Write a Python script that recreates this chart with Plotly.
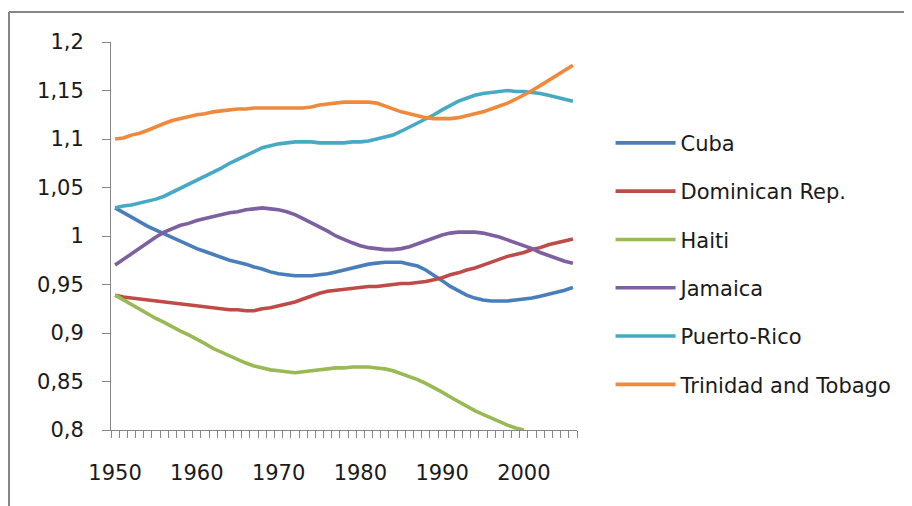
import plotly.graph_objects as go

years = list(range(1950, 2007))

cuba = [1.029, 1.024, 1.019, 1.015, 1.010, 1.006, 1.002, 0.998, 0.994, 0.990,
        0.987, 0.984, 0.981, 0.978, 0.975, 0.973, 0.971, 0.968, 0.966, 0.963,
        0.961, 0.960, 0.959, 0.959, 0.959, 0.960, 0.961, 0.963, 0.965, 0.967,
        0.969, 0.971, 0.972, 0.973, 0.973, 0.973, 0.971, 0.969, 0.965, 0.960,
        0.954, 0.948, 0.943, 0.939, 0.936, 0.934, 0.933, 0.933, 0.933, 0.934,
        0.935, 0.936, 0.938, 0.940, 0.942, 0.944, 0.947]

dominican = [0.939, 0.937, 0.936, 0.935, 0.934, 0.933, 0.932, 0.931, 0.930, 0.929,
             0.928, 0.927, 0.926, 0.925, 0.924, 0.924, 0.923, 0.923, 0.925, 0.926,
             0.928, 0.930, 0.932, 0.935, 0.938, 0.941, 0.943, 0.944, 0.945, 0.946,
             0.947, 0.948, 0.948, 0.949, 0.950, 0.951, 0.951, 0.952, 0.953, 0.955,
             0.957, 0.960, 0.962, 0.965, 0.967, 0.970, 0.973, 0.976, 0.979, 0.981,
             0.983, 0.986, 0.988, 0.991, 0.993, 0.995, 0.997]

haiti = [0.939, 0.934, 0.929, 0.925, 0.920, 0.915, 0.911, 0.906, 0.902, 0.898,
         0.894, 0.889, 0.884, 0.880, 0.876, 0.872, 0.869, 0.866, 0.864, 0.862,
         0.861, 0.860, 0.859, 0.860, 0.861, 0.862, 0.863, 0.864, 0.864, 0.865,
         0.865, 0.865, 0.864, 0.863, 0.861, 0.858, 0.855, 0.852, 0.848, 0.844,
         0.839, 0.834, 0.829, 0.824, 0.820, 0.816, 0.812, 0.808, 0.805, 0.802,
         0.800, None, None, None, None, None, None]

jamaica = [0.970, 0.976, 0.982, 0.988, 0.994, 0.999, 1.004, 1.008, 1.011, 1.013,
           1.016, 1.018, 1.020, 1.022, 1.024, 1.025, 1.027, 1.028, 1.029, 1.028,
           1.027, 1.025, 1.022, 1.018, 1.014, 1.009, 1.005, 1.000, 0.996, 0.993,
           0.990, 0.988, 0.987, 0.986, 0.986, 0.987, 0.989, 0.992, 0.995, 0.998,
           1.001, 1.003, 1.004, 1.004, 1.004, 1.003, 1.001, 0.999, 0.996, 0.993,
           0.990, 0.987, 0.983, 0.980, 0.977, 0.974, 0.972]

puerto_rico = [1.029, 1.031, 1.032, 1.034, 1.036, 1.038, 1.041, 1.045, 1.049, 1.053,
               1.057, 1.061, 1.066, 1.070, 1.075, 1.079, 1.083, 1.087, 1.091, 1.093,
               1.095, 1.096, 1.097, 1.097, 1.097, 1.096, 1.096, 1.096, 1.096, 1.097,
               1.097, 1.098, 1.100, 1.102, 1.104, 1.108, 1.112, 1.116, 1.120, 1.125,
               1.130, 1.135, 1.139, 1.142, 1.145, 1.147, 1.148, 1.149, 1.150, 1.149,
               1.149, 1.148, 1.147, 1.145, 1.143, 1.141, 1.139]

trinidad = [1.100, 1.101, 1.104, 1.106, 1.109, 1.113, 1.116, 1.119, 1.121, 1.123,
            1.125, 1.126, 1.128, 1.129, 1.130, 1.131, 1.131, 1.132, 1.132, 1.132,
            1.132, 1.132, 1.132, 1.132, 1.133, 1.135, 1.136, 1.137, 1.138, 1.138,
            1.138, 1.138, 1.137, 1.134, 1.131, 1.128, 1.126, 1.124, 1.122, 1.121,
            1.121, 1.121, 1.122, 1.124, 1.126, 1.128, 1.131, 1.134, 1.137, 1.141,
            1.145, 1.150, 1.155, 1.160, 1.165, 1.170, 1.176]

series_names = ["Cuba", "Dominican Rep.", "Haiti", "Jamaica", "Puerto-Rico", "Trinidad and Tobago"]
series_values = [cuba, dominican, haiti, jamaica, puerto_rico, trinidad]
series_colors = ["#4a7ebb", "#be4b48", "#98b954", "#7d60a0", "#46aac5", "#f0893c"]

x_tick_vals = [1950, 1960, 1970, 1980, 1990, 2000]
x_tick_text = ["1950", "1960", "1970", "1980", "1990", "2000"]
y_tick_vals = [0.8, 0.85, 0.9, 0.95, 1.0, 1.05, 1.1, 1.15, 1.2]
y_tick_text = ["0,8", "0,85", "0,9", "0,95", "1", "1,05", "1,1", "1,15", "1,2"]

FONT = "DejaVu Sans"
FS = 21
TXT = "#1a1a1a"
AX = "#868686"

fig = go.Figure()
for name, vals, col in zip(series_names, series_values, series_colors):
    fig.add_trace(go.Scatter(x=years, y=vals, mode="lines", name=name,
                             legendgroup=name,
                             line=dict(color=col, width=3.6),
                             connectgaps=False))

fig.update_layout(
    width=904, height=498,
    margin=dict(l=103, r=335, t=34, b=76),
    paper_bgcolor="white", plot_bgcolor="white",
    font=dict(family=FONT, size=FS, color=TXT),
    showlegend=True,
    legend=dict(x=1.072, y=0.792, xanchor="left", yanchor="top",
                font=dict(family=FONT, size=FS, color=TXT),
                itemwidth=60,
                tracegroupgap=18, bgcolor="rgba(0,0,0,0)"),
    xaxis=dict(range=[1949.5, 2006.5], showgrid=False, zeroline=False,
               showline=True, linecolor=AX, linewidth=1,
               tickmode="array", tickvals=x_tick_vals, ticktext=x_tick_text,
               ticks="", ticklabelstandoff=24,
               minor=dict(tick0=1949.5, dtick=1, ticks="outside", ticklen=7,
                          tickcolor=AX, tickwidth=1, showgrid=False)),
    yaxis=dict(range=[0.8, 1.2], showgrid=False, zeroline=False,
               showline=True, linecolor=AX, linewidth=1,
               tickmode="array", tickvals=y_tick_vals, ticktext=y_tick_text,
               ticks="outside", ticklen=8, tickcolor=AX, tickwidth=1,
               ticklabelstandoff=14),
)

# chart-area border (top and left edges visible)
x_left = (1 - 103) / 466
x_right = (904 - 103) / 466
y_top = (422 - 4) / 388
y_bot = (422 - 498) / 388
fig.add_shape(type="line", xref="paper", yref="paper", x0=x_left, x1=x_right,
              y0=y_top, y1=y_top, line=dict(color=AX, width=2))
fig.add_shape(type="line", xref="paper", yref="paper", x0=x_left, x1=x_left,
              y0=y_top, y1=y_bot, line=dict(color=AX, width=2))

fig.write_html("out.html")
